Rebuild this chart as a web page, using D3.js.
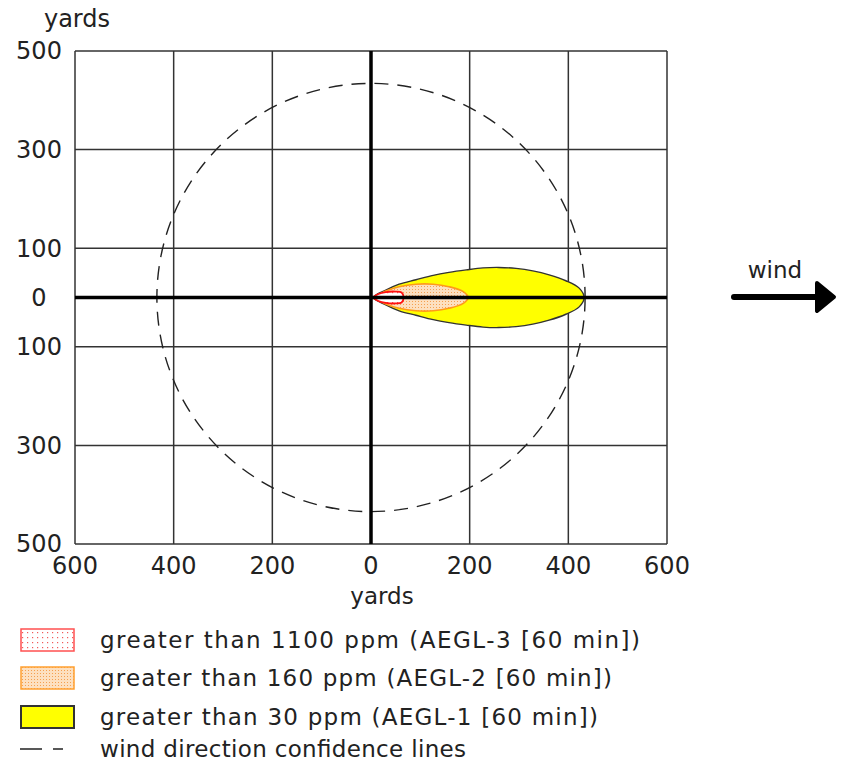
<!DOCTYPE html>
<html>
<head>
<meta charset="utf-8">
<script src="https://cdn.jsdelivr.net/npm/d3@7"></script>
<style>
  body { margin: 0; background: #fff; }
  text { font-family: "DejaVu Sans", Verdana, sans-serif; fill: #222; }
</style>
</head>
<body>
<script>
// grid ticks (yards)
const xTicks = [-600, -400, -200, 0, 200, 400, 600];
const yTicks = [500, 300, 100, 0, -100, -300, -500];

// threat zone footprints: downwind distance and half width (yards)
const aegl1Down = [5, 30, 57, 91, 126, 158, 193, 227, 259, 294, 328, 361, 395, 422, 432];
const aegl1Half = [0, 15, 27, 36, 45, 51, 56, 60, 61, 59, 54, 46, 34, 19, 0];
const aegl2Down = [5, 20, 30, 57, 91, 126, 158, 187, 197];
const aegl2Half = [0, 8, 13, 22, 27, 27, 22, 12, 0];
const aegl3Down = [5, 15, 30, 50, 62, 66];
const aegl3Half = [0, 7, 11, 12, 10, 0];

// wind direction confidence circle radius (yards)
const confRadius = [434];

const legendItems = [
  'greater than 1100 ppm (AEGL-3 [60 min])',
  'greater than 160 ppm (AEGL-2 [60 min])',
  'greater than 30 ppm (AEGL-1 [60 min])',
  'wind direction confidence lines'
];

const width = 843, height = 765;
const margin = {left: 75, right: 176, top: 51, bottom: 221};
// rendered widths of the legend lines in the picture
const legendTextLen = [540, 512, 498, 366];

const svg = d3.select('body').append('svg').attr('width', width).attr('height', height);

const x = d3.scaleLinear().domain([-600, 600]).range([margin.left, width - margin.right]);
const y = d3.scaleLinear().domain([-500, 500]).range([height - margin.bottom, margin.top]);
const r = d => x(d) - x(0);

const defs = svg.append('defs');
const redPat = defs.append('pattern').attr('id', 'redDots')
  .attr('patternUnits', 'userSpaceOnUse').attr('width', 5).attr('height', 5);
redPat.append('rect').attr('width', 5).attr('height', 5).attr('fill', '#fff');
redPat.append('rect').attr('x', 2).attr('y', 2).attr('width', 1.2).attr('height', 1.2).attr('fill', '#f25a5a');

const orPat = defs.append('pattern').attr('id', 'orangeDots')
  .attr('patternUnits', 'userSpaceOnUse').attr('width', 3).attr('height', 3);
orPat.append('rect').attr('width', 3).attr('height', 3).attr('fill', '#fde0c0');
orPat.append('rect').attr('x', 1).attr('y', 1).attr('width', 1).attr('height', 1).attr('fill', '#f5a050');

// grid
const grid = svg.append('g');
grid.selectAll('line.v').data(xTicks).join('line')
  .attr('x1', d => x(d)).attr('x2', d => x(d))
  .attr('y1', y(500)).attr('y2', y(-500))
  .attr('stroke', '#333').attr('stroke-width', 1.5);
grid.selectAll('line.h').data(yTicks).join('line')
  .attr('y1', d => y(d)).attr('y2', d => y(d))
  .attr('x1', x(-600)).attr('x2', x(600))
  .attr('stroke', '#333').attr('stroke-width', 1.5);

// confidence circle
svg.selectAll('circle.conf').data(confRadius).join('circle')
  .attr('cx', x(0)).attr('cy', y(0)).attr('r', d => r(d))
  .attr('fill', 'none').attr('stroke', '#222').attr('stroke-width', 1.4)
  .attr('stroke-dasharray', '14,9');

// zones
const line = d3.line().x(p => x(p[0])).y(p => y(p[1])).curve(d3.curveCatmullRomClosed.alpha(0.5));
const zonePts = (down, half) => {
  const up = down.map((d, i) => [d, half[i]]);
  const lo = down.slice(1, -1).map((d, i) => [d, -half[i + 1]]).reverse();
  return up.concat(lo);
};
svg.append('path').attr('d', line(zonePts(aegl1Down, aegl1Half)))
  .attr('fill', '#ffff00').attr('stroke', '#333').attr('stroke-width', 1.4);
svg.append('path').attr('d', line(zonePts(aegl2Down, aegl2Half)))
  .attr('fill', 'url(#orangeDots)').attr('stroke', '#ff9a1a').attr('stroke-width', 1.6);
svg.append('path').attr('d', line(zonePts(aegl3Down, aegl3Half)))
  .attr('fill', 'url(#redDots)').attr('stroke', '#ff1010').attr('stroke-width', 1.8);

// main axes
svg.append('line').attr('x1', x(-600)).attr('x2', x(600)).attr('y1', y(0)).attr('y2', y(0))
  .attr('stroke', '#000').attr('stroke-width', 3.5);
svg.append('line').attr('x1', x(0)).attr('x2', x(0)).attr('y1', y(500)).attr('y2', y(-500))
  .attr('stroke', '#000').attr('stroke-width', 3.5);

// tick labels
svg.selectAll('text.yl').data(yTicks).join('text')
  .attr('x', 39).attr('y', d => y(d)).attr('dy', '0.35em')
  .attr('text-anchor', 'middle').attr('font-size', 24)
  .text(d => Math.abs(d));
svg.selectAll('text.xl').data(xTicks).join('text')
  .attr('x', d => x(d)).attr('y', y(-500) + 22).attr('dy', '0.35em')
  .attr('text-anchor', 'middle').attr('font-size', 24)
  .text(d => Math.abs(d));
svg.append('text').attr('x', 77).attr('y', 19).attr('dy', '0.35em')
  .attr('text-anchor', 'middle').attr('font-size', 24).text('yards');
svg.append('text').attr('x', 382).attr('y', 596).attr('dy', '0.35em')
  .attr('text-anchor', 'middle').attr('font-size', 23).text('yards');

// wind arrow
svg.append('text').attr('x', 775).attr('y', 270).attr('dy', '0.35em')
  .attr('text-anchor', 'middle').attr('font-size', 23).text('wind');
svg.append('line').attr('x1', 734).attr('x2', 815).attr('y1', 297).attr('y2', 297)
  .attr('stroke', '#000').attr('stroke-width', 6).attr('stroke-linecap', 'round');
svg.append('path').attr('d', 'M817,283 L834,297 L817,311 Z')
  .attr('fill', '#000').attr('stroke', '#000').attr('stroke-width', 4).attr('stroke-linejoin', 'round');

// legend
const lg = svg.append('g');
const rowY = [640, 678, 717, 749];
const sw = [
  {fill: 'url(#redDots)', stroke: '#ff5050', w: 1.5},
  {fill: 'url(#orangeDots)', stroke: '#ffa030', w: 1.5},
  {fill: '#ffff00', stroke: '#333', w: 2}
];
lg.selectAll('rect').data(sw).join('rect')
  .attr('x', 21).attr('y', (d, i) => rowY[i] - 11).attr('width', 53).attr('height', 22)
  .attr('fill', d => d.fill).attr('stroke', d => d.stroke).attr('stroke-width', d => d.w);
lg.append('line').attr('x1', 20).attr('x2', 76).attr('y1', rowY[3]).attr('y2', rowY[3])
  .attr('stroke', '#222').attr('stroke-width', 1.5).attr('stroke-dasharray', '22,11,10,20');
lg.selectAll('text').data(legendItems).join('text')
  .attr('x', 100).attr('y', (d, i) => rowY[i]).attr('dy', '0.35em')
  .attr('font-size', 23).attr('textLength', (d, i) => legendTextLen[i])
  .attr('lengthAdjust', 'spacing')
  .text(d => d);
</script>
</body>
</html>
